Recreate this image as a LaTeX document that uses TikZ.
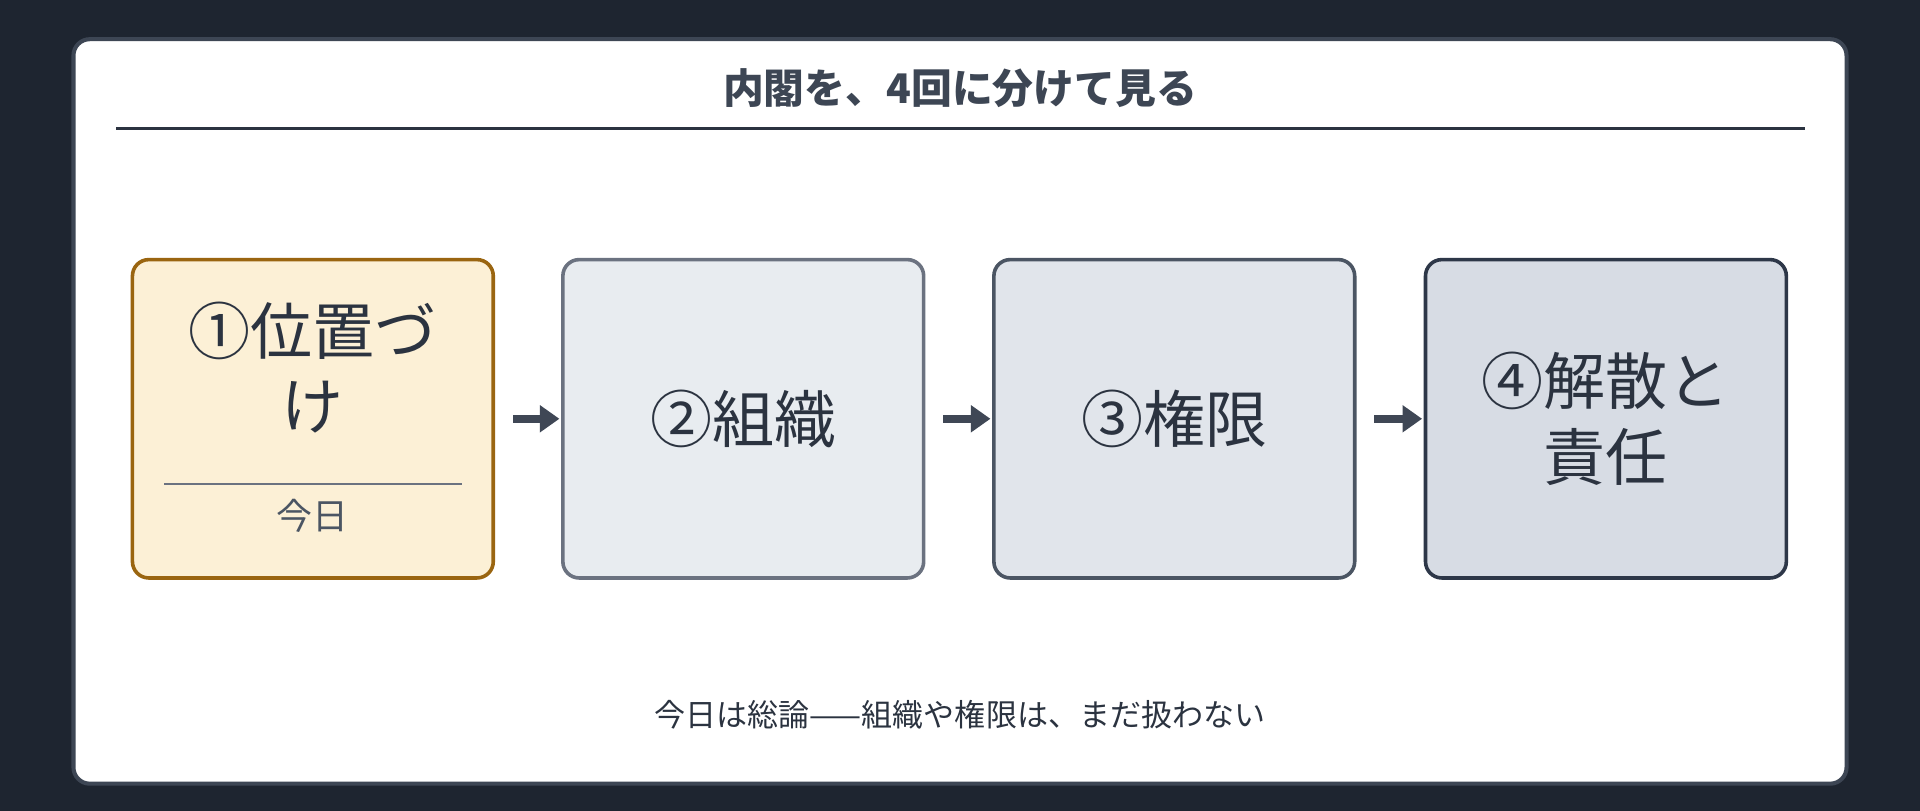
\documentclass[tikz,border=0pt]{standalone}
\usepackage{fontspec}
\setmainfont{Noto Sans CJK JP}
\usetikzlibrary{positioning,arrows.meta}
\definecolor{bgdark}{HTML}{1E2530}
\definecolor{cardedge}{HTML}{3D4654}
\definecolor{inkdark}{HTML}{2B3340}
\definecolor{arrowgray}{HTML}{3F4755}
\definecolor{fillone}{HTML}{FCF0D6}
\definecolor{edgeone}{HTML}{9A6510}
\definecolor{filltwo}{HTML}{E8ECF0}
\definecolor{edgetwo}{HTML}{6B7280}
\definecolor{fillthree}{HTML}{E1E5EB}
\definecolor{edgethree}{HTML}{4B5563}
\definecolor{fillfour}{HTML}{D7DCE4}
\definecolor{edgefour}{HTML}{2D3748}
\tikzset{every picture/.style={line width=0.75pt}}
\tikzset{
  stagebox/.style={draw, rounded corners=10pt, line width=2.2pt, minimum width=221pt, minimum height=195pt, align=center, text=inkdark, font=\fontsize{38}{46}\selectfont},
  flow/.style={-{Triangle[length=12pt,width=16pt]}, line width=5pt, arrowgray, shorten >=1pt}
}
\begin{document}
\begin{tikzpicture}[x=0.75pt,y=0.75pt,yscale=-1,xscale=1]
\useasboundingbox (0,0) rectangle (1568,662);
\fill [bgdark] (0,0) rectangle (1568,662);

% card
\draw [cardedge, fill=white, line width=2.5pt, rounded corners=10pt] (60,32) rectangle (1508,640);

% title
\node (title) [text=cardedge, font=\fontsize{25}{30}\selectfont\bfseries] at (784,72) {内閣を、4回に分けて見る};
\draw [inkdark, line width=1.5pt] (95,105) -- (1474,105);

% steps
\node (stepone) [stagebox, fill=fillone, draw=edgeone] at (255.5,342) {};
\node (steptwo) [stagebox, fill=filltwo, draw=edgetwo] at (607,342) {②組織};
\node (stepthree) [stagebox, fill=fillthree, draw=edgethree] at (959,342) {③権限};
\node (stepfour) [stagebox, fill=fillfour, draw=edgefour] at (1311.5,342) {④解散と\\責任};

\node (onelabel) [text=inkdark, align=center, font=\fontsize{38}{46}\selectfont] at (255.5,300) {①位置づ\\け};
\coordinate (ruleleft) at (134,395);
\coordinate (ruleright) at (377,395);
\draw [edgetwo, line width=1.2pt] (ruleleft) -- (ruleright);
\node (today) [text=edgethree, font=\fontsize{22}{26}\selectfont] at (255.5,421) {今日};

% arrows
\draw [flow] (stepone.east) ++(11pt,0) coordinate (aone) -- (steptwo.west);
\draw [flow] (steptwo.east) ++(11pt,0) coordinate (atwo) -- (stepthree.west);
\draw [flow] (stepthree.east) ++(11pt,0) coordinate (athree) -- (stepfour.west);

% note
\node (note) [text=inkdark, font=\fontsize{19}{23}\selectfont] at (784,584) {今日は総論——組織や権限は、まだ扱わない};
\end{tikzpicture}
\end{document}
